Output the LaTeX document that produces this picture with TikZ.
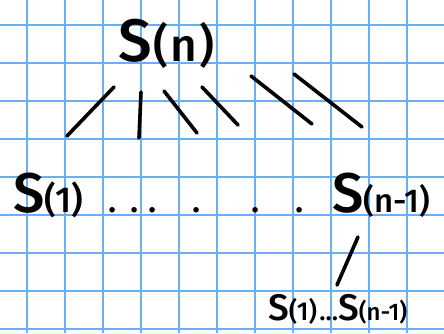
\documentclass[tikz,border=0pt]{standalone}
\usepackage{fontspec}
\setmainfont{Fira Sans}
\newfontfamily\hand{Fira Sans Medium}
\definecolor{gridblue}{HTML}{6AAEF5}
\usetikzlibrary{positioning}

\begin{document}
\begin{tikzpicture}[
  x=1pt, y=-1pt,
  stroke/.style={line width=3.6pt, line cap=round, black},
  lbl/.style={inner sep=0pt, anchor=base west, font=\hand}
]
  % paper with grid
  \useasboundingbox (0,0) rectangle (444,333);
  \fill[white] (0,0) rectangle (444,333);
  \foreach \gx in {27,65,...,445}
    \draw[gridblue, line width=2pt] (\gx,0) -- (\gx,333);
  \foreach \gy in {25,63,...,334}
    \draw[gridblue, line width=2pt] (0,\gy) -- (444,\gy);

  % root
  \node[lbl] (root) at (118,61) {{\fontsize{60}{60}\selectfont S}\hspace{2pt}{\fontsize{46}{46}\selectfont (\hspace{2pt}n\hspace{2pt})}};

  % children row
  \node[lbl] (sone) at (13,212) {{\fontsize{56}{56}\selectfont S}{\fontsize{36}{36}\selectfont (1)}};
  \node[lbl] (dots) at (108,212) {\fontsize{34}{34}\selectfont .\hspace{14pt}.\hspace{10pt}.\hspace{36pt}.\hspace{51pt}.\hspace{36pt}.};
  \node[lbl] (slast) at (332,212) {{\fontsize{56}{56}\selectfont S}{\fontsize{33}{33}\selectfont (n-1)}};

  % grandchildren row
  \node[lbl] (sub) at (268,320) {{\fontsize{37}{37}\selectfont S}{\fontsize{26}{26}\selectfont (1)} {\fontsize{26}{26}\selectfont ...}{\fontsize{37}{37}\selectfont S}{\fontsize{24}{24}\selectfont (n-1)}};

  % branch strokes
  \coordinate (b1a) at (114,87);  \coordinate (b1b) at (67,136);
  \coordinate (b2a) at (141,92);  \coordinate (b2b) at (139,138);
  \coordinate (b3a) at (164,91);  \coordinate (b3b) at (197,133);
  \coordinate (b4a) at (202,87);  \coordinate (b4b) at (238,125);
  \coordinate (b5a) at (251,76);  \coordinate (b5b) at (312,124);
  \coordinate (b6a) at (294,74);  \coordinate (b6b) at (362,127);
  \coordinate (b7a) at (358,237); \coordinate (b7b) at (337,285);
  \foreach \i in {1,...,7}
    \draw[stroke] (b\i a) -- (b\i b);
\end{tikzpicture}
\end{document}
